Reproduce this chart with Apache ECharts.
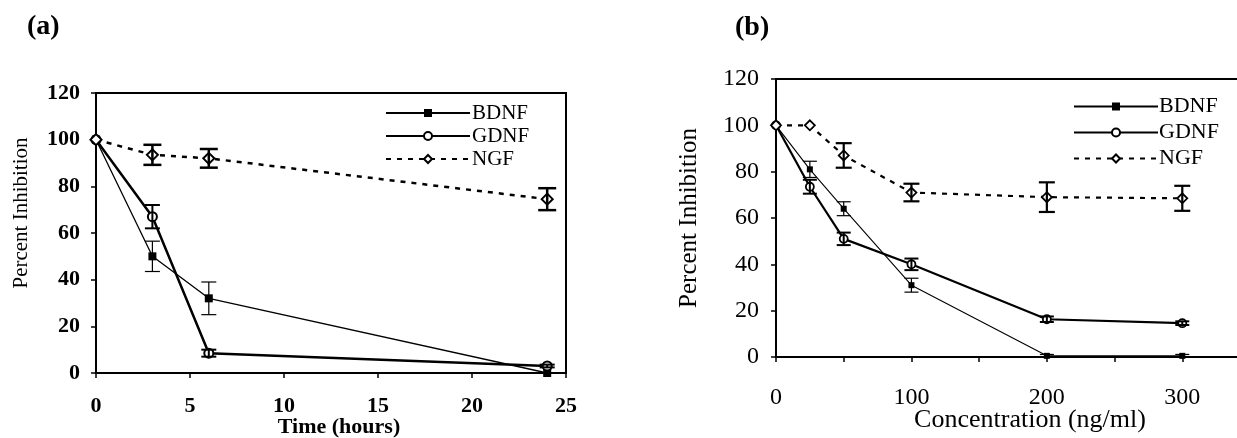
<!DOCTYPE html>
<html><head><meta charset="utf-8">
<script src="https://cdn.jsdelivr.net/npm/echarts@6/dist/echarts.min.js"></script>
<style>html,body{margin:0;padding:0;background:#fff}#c{width:1237px;height:438px}</style>
</head><body><div id="c"></div>
<script>
// ---- Panel (a): time course ----
const timeHours = [0, 3, 6, 24];
const bdnfTime = [100, 50, 32, 0];
const bdnfTimeErr = [0, 6.5, 7, 0];
const gdnfTime = [100, 67, 8.5, 3];
const gdnfTimeErr = [0, 5, 1.5, 0.6];
const ngfTime = [100, 93.5, 92, 74.5];
const ngfTimeErr = [0, 4.3, 4, 4.7];
const timeTicks = [0, 5, 10, 15, 20, 25];

// ---- Panel (b): concentration ----
const concNgMl = [0, 25, 50, 100, 200, 300];
const bdnfConc = [100, 81, 64, 31, 0.5, 0.5];
const bdnfConcErr = [0, 3.5, 3, 3, 0.6, 0.6];
const gdnfConc = [100, 73.5, 51, 40, 16.3, 14.6];
const gdnfConcErr = [0, 3, 2.7, 2.5, 1.2, 0.8];
const ngfConc = [100, 100, 87, 71, 69, 68.5];
const ngfConcErr = [0, 0, 5.3, 3.8, 6.4, 5.4];
const concLabels = [0, 100, 200, 300];

const yTicks = [0, 20, 40, 60, 80, 100, 120];
const seriesNames = ['BDNF', 'GDNF', 'NGF'];

const SERIF = 'Liberation Serif';
const pairs = (xs, ys) => xs.map((x, i) => [x, ys[i]]);

function errBars(idx, xs, ys, es, lw, capW) {
  return {
    type: 'custom', xAxisIndex: idx, yAxisIndex: idx, silent: true, z: 6,
    data: xs.map((x, i) => [x, ys[i] - es[i], ys[i] + es[i]]).filter(d => d[2] > d[1]),
    encode: { x: 0, y: [1, 2] },
    renderItem: (params, api) => {
      const lo = api.coord([api.value(0), api.value(1)]);
      const hi = api.coord([api.value(0), api.value(2)]);
      const st = { stroke: '#000', lineWidth: lw, fill: null };
      return { type: 'group', children: [
        { type: 'line', shape: { x1: lo[0], y1: lo[1], x2: hi[0], y2: hi[1] }, style: st },
        { type: 'line', shape: { x1: lo[0] - capW / 2, y1: lo[1], x2: lo[0] + capW / 2, y2: lo[1] }, style: st },
        { type: 'line', shape: { x1: hi[0] - capW / 2, y1: hi[1], x2: hi[0] + capW / 2, y2: hi[1] }, style: st }
      ]};
    }
  };
}

function lineSeries(idx, name, xs, ys, opts) {
  return Object.assign({
    type: 'line', name: name, xAxisIndex: idx, yAxisIndex: idx,
    data: pairs(xs, ys), animation: false, z: 4,
    itemStyle: { color: '#000', borderColor: '#000' },
    emphasis: { disabled: true }
  }, opts);
}

const chart = echarts.init(document.getElementById('c'), null, { renderer: 'canvas' });

const axisCommon = {
  nameMoveOverlap: false,
  axisLine: { show: true, lineStyle: { color: '#000', width: 2 } },
  axisTick: { show: true, inside: false, length: 5, lineStyle: { color: '#000', width: 1.5 } },
  splitLine: { show: false }
};

chart.setOption({
  animation: false,
  backgroundColor: '#fff',
  title: [
    { text: '(a)', left: 27, top: 13, padding: 0, textStyle: { fontFamily: SERIF, fontSize: 28, fontWeight: 'bold', color: '#000' } },
    { text: '(b)', left: 735, top: 14, padding: 0, textStyle: { fontFamily: SERIF, fontSize: 28, fontWeight: 'bold', color: '#000' } }
  ],
  legend: [
    { data: seriesNames, orient: 'vertical', left: 385, top: 102, padding: 0, itemWidth: 84, itemHeight: 10, itemGap: 1, selectedMode: false,
      textStyle: { fontFamily: SERIF, fontSize: 21, color: '#000', lineHeight: 22, padding: [0, 0, 0, -3] } },
    { data: seriesNames, orient: 'vertical', left: 1073, top: 95, padding: 0, itemWidth: 84, itemHeight: 10, itemGap: 3, selectedMode: false,
      textStyle: { fontFamily: SERIF, fontSize: 22, color: '#000', lineHeight: 23, padding: [0, 0, 0, -4] } }
  ],
  grid: [
    { left: 96, top: 93, width: 470, height: 280, show: true, borderColor: '#000', borderWidth: 2, backgroundColor: 'transparent', outerBoundsMode: 'none', containLabel: false },
    { left: 776, top: 79, width: 474, height: 278, show: true, borderColor: '#000', borderWidth: 2, backgroundColor: 'transparent', outerBoundsMode: 'none', containLabel: false }
  ],
  xAxis: [
    Object.assign({}, axisCommon, {
      type: 'value', gridIndex: 0, min: timeTicks[0], max: timeTicks[timeTicks.length - 1], interval: 5,
      name: 'Time (hours)', nameLocation: 'middle', nameGap: 43,
      nameTextStyle: { fontFamily: SERIF, fontSize: 22, fontWeight: 'bold', color: '#000', padding: [0, 0, 0, 16] },
      axisLabel: { fontFamily: SERIF, fontSize: 22, fontWeight: 'bold', color: '#000', margin: 22 }
    }),
    Object.assign({}, axisCommon, {
      type: 'value', gridIndex: 1, min: 0, max: 350, interval: 50,
      name: 'Concentration (ng/ml)', nameLocation: 'middle', nameGap: 50,
      nameTextStyle: { fontFamily: SERIF, fontSize: 26, color: '#000', padding: [0, 0, 0, 34] },
      axisLabel: { fontFamily: SERIF, fontSize: 24, color: '#000', margin: 29,
        formatter: v => (concLabels.indexOf(v) >= 0 ? String(v) : '') }
    })
  ],
  yAxis: [
    Object.assign({}, axisCommon, {
      type: 'value', gridIndex: 0, min: yTicks[0], max: yTicks[yTicks.length - 1], interval: 20,
      name: 'Percent Inhibition', nameLocation: 'middle', nameGap: 64,
      nameTextStyle: { fontFamily: SERIF, fontSize: 21, color: '#000', padding: [0, 0, 0, 40] },
      axisLabel: { fontFamily: SERIF, fontSize: 22, fontWeight: 'bold', color: '#000', margin: 16 }
    }),
    Object.assign({}, axisCommon, {
      type: 'value', gridIndex: 1, min: yTicks[0], max: yTicks[yTicks.length - 1], interval: 20,
      name: 'Percent Inhibition', nameLocation: 'middle', nameGap: 74,
      nameTextStyle: { fontFamily: SERIF, fontSize: 25, color: '#000' },
      axisLabel: { fontFamily: SERIF, fontSize: 24, color: '#000', margin: 17 }
    })
  ],
  series: [
    // panel (a)
    lineSeries(0, 'BDNF', timeHours, bdnfTime, { symbol: 'rect', symbolSize: 8, lineStyle: { color: '#000', width: 1.3 }, itemStyle: { color: '#000' } }),
    lineSeries(0, 'GDNF', timeHours, gdnfTime, { symbol: 'circle', symbolSize: 9, lineStyle: { color: '#000', width: 2.5 }, itemStyle: { color: '#fff', borderColor: '#000', borderWidth: 2 } }),
    lineSeries(0, 'NGF', timeHours, ngfTime, { symbol: 'diamond', symbolSize: 11, lineStyle: { color: '#000', width: 2.5, type: [5, 6] }, itemStyle: { color: '#fff', borderColor: '#000', borderWidth: 2 } }),
    errBars(0, timeHours, bdnfTime, bdnfTimeErr, 1.2, 15),
    errBars(0, timeHours, gdnfTime, gdnfTimeErr, 2, 15),
    errBars(0, timeHours, ngfTime, ngfTimeErr, 2.5, 18),
    // panel (b)
    lineSeries(1, 'BDNF', concNgMl, bdnfConc, { symbol: 'rect', symbolSize: 6, lineStyle: { color: '#000', width: 1.1 }, itemStyle: { color: '#000' } }),
    lineSeries(1, 'GDNF', concNgMl, gdnfConc, { symbol: 'circle', symbolSize: 8, lineStyle: { color: '#000', width: 2.2 }, itemStyle: { color: '#fff', borderColor: '#000', borderWidth: 1.8 } }),
    lineSeries(1, 'NGF', concNgMl, ngfConc, { symbol: 'diamond', symbolSize: 10, lineStyle: { color: '#000', width: 2.2, type: [5, 6] }, itemStyle: { color: '#fff', borderColor: '#000', borderWidth: 1.8 } }),
    errBars(1, concNgMl, bdnfConc, bdnfConcErr, 1.2, 14),
    errBars(1, concNgMl, gdnfConc, gdnfConcErr, 2, 14),
    errBars(1, concNgMl, ngfConc, ngfConcErr, 2.2, 16)
  ]
});
</script>
</body></html>
